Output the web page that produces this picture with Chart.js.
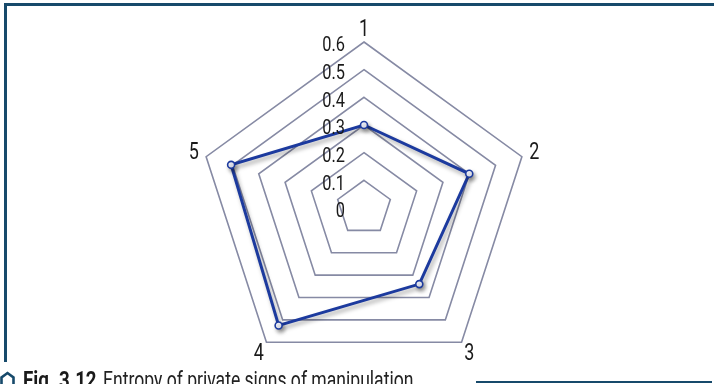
<!DOCTYPE html>
<html>
<head>
<meta charset="utf-8">
<script src="https://cdn.jsdelivr.net/npm/chart.js@4.4.1/dist/chart.umd.min.js"></script>
<style>
  html, body { margin: 0; padding: 0; background: #fff; overflow: hidden; }
  #wrap { position: relative; width: 714px; height: 384px; overflow: hidden; }
  #chart { position: absolute; left: 0; top: 0; }
  .rule { position: absolute; background: #174a6b; }
  .cap {
    position: absolute; top: 369px; white-space: nowrap;
    font-family: Roboto, sans-serif; font-size: 23px; line-height: 24px;
    color: #222; transform-origin: 0 0;
  }
  #capBold { left: 23px; font-weight: 700; color: #1a1a1a; }
  #capText { left: 103px; }
  #icon { position: absolute; left: 0; top: 371px; }
</style>
</head>
<body>
<div id="wrap">
  <canvas id="chart" width="714" height="384"></canvas>
  <div class="rule" style="left:4px; top:3px; width:710px; height:3px;"></div>
  <div class="rule" style="left:4px; top:3px; width:3px; height:359px;"></div>
  <div class="rule" style="left:476px; top:381px; width:236px; height:2px;"></div>
  <svg id="icon" width="15" height="16" viewBox="0 0 15 16"><path d="M1.5 16 V6.5 L7.5 2 L13.5 6.5 V16" fill="none" stroke="#174a6b" stroke-width="2.6"/></svg>
  <div class="cap" id="capBold">Fig. 3.12</div>
  <div class="cap" id="capText">Entropy of private signs of manipulation</div>
</div>
<script>
// axes and values
const categories = ['1', '2', '3', '4', '5'];
const entropy = [0.30, 0.40, 0.34, 0.525, 0.505];
const tickValues = [0, 0.1, 0.2, 0.3, 0.4, 0.5, 0.6];

const squeeze = 0.78; // the figure uses a condensed face

// squeeze the caption pieces to the widths they have in the figure
function fitWidth(id, w) {
    const el = document.getElementById(id);
    el.style.transform = 'scaleX(' + (w / el.offsetWidth) + ')';
}
fitWidth('capBold', 74);
fitWidth('capText', 310);

function narrowText(ctx, text, x, y) {
    ctx.save();
    ctx.translate(x, y);
    ctx.scale(squeeze, 1);
    ctx.fillText(text, 0, 0);
    ctx.restore();
}

// put the radar where the figure has it and draw the labels beside the axis
const radarLayout = {
    id: 'radarLayout',
    afterLayout(chart) {
        const r = chart.scales.r;
        r.xCenter = 364;
        r.yCenter = 208;
        r.drawingArea = 166;
    },
    beforeDatasetsDraw(chart) {
        const ctx = chart.ctx;
        ctx.save();
        ctx.shadowColor = 'rgba(0, 0, 0, 0.35)';
        ctx.shadowBlur = 4;
        ctx.shadowOffsetX = 2;
        ctx.shadowOffsetY = 3;
    },
    afterDatasetsDraw(chart) {
        chart.ctx.restore();
    },
    afterDraw(chart) {
        const ctx = chart.ctx;
        const r = chart.scales.r;
        ctx.save();
        ctx.fillStyle = '#1a1a1a';
        ctx.textBaseline = 'middle';

        // tick labels, to the left of the vertical axis
        ctx.font = '21px Roboto, sans-serif';
        ctx.textAlign = 'right';
        tickValues.forEach(v => {
            const d = r.getDistanceFromCenterForValue(v);
            narrowText(ctx, String(v), r.xCenter - 19, r.yCenter - d + 4);
        });

        // category labels outside the outer ring
        ctx.font = '23px Roboto, sans-serif';
        ctx.textAlign = 'center';
        categories.forEach((c, i) => {
            const p = r.getPointPosition(i, r.drawingArea + 13);
            narrowText(ctx, c, p.x, p.y + 1);
        });
        ctx.restore();
    }
};

new Chart(document.getElementById('chart'), {
    type: 'radar',
    data: {
        labels: categories,
        datasets: [{
            data: entropy,
            borderColor: '#1c3a9e',
            borderWidth: 3,
            fill: false,
            tension: 0,
            pointRadius: 3.5,
            pointBorderWidth: 1.6,
            pointBackgroundColor: '#f4f6ff',
            pointBorderColor: '#1c3a9e'
        }]
    },
    options: {
        responsive: false,
        animation: false,
        devicePixelRatio: 1,
        plugins: {
            legend: { display: false },
            tooltip: { enabled: false }
        },
        scales: {
            r: {
                min: 0,
                max: 0.6,
                ticks: { stepSize: 0.1, display: false },
                angleLines: { display: false },
                pointLabels: { display: false },
                grid: { color: '#868aa4', lineWidth: 1.6 }
            }
        }
    },
    plugins: [radarLayout]
});
</script>
</body>
</html>
